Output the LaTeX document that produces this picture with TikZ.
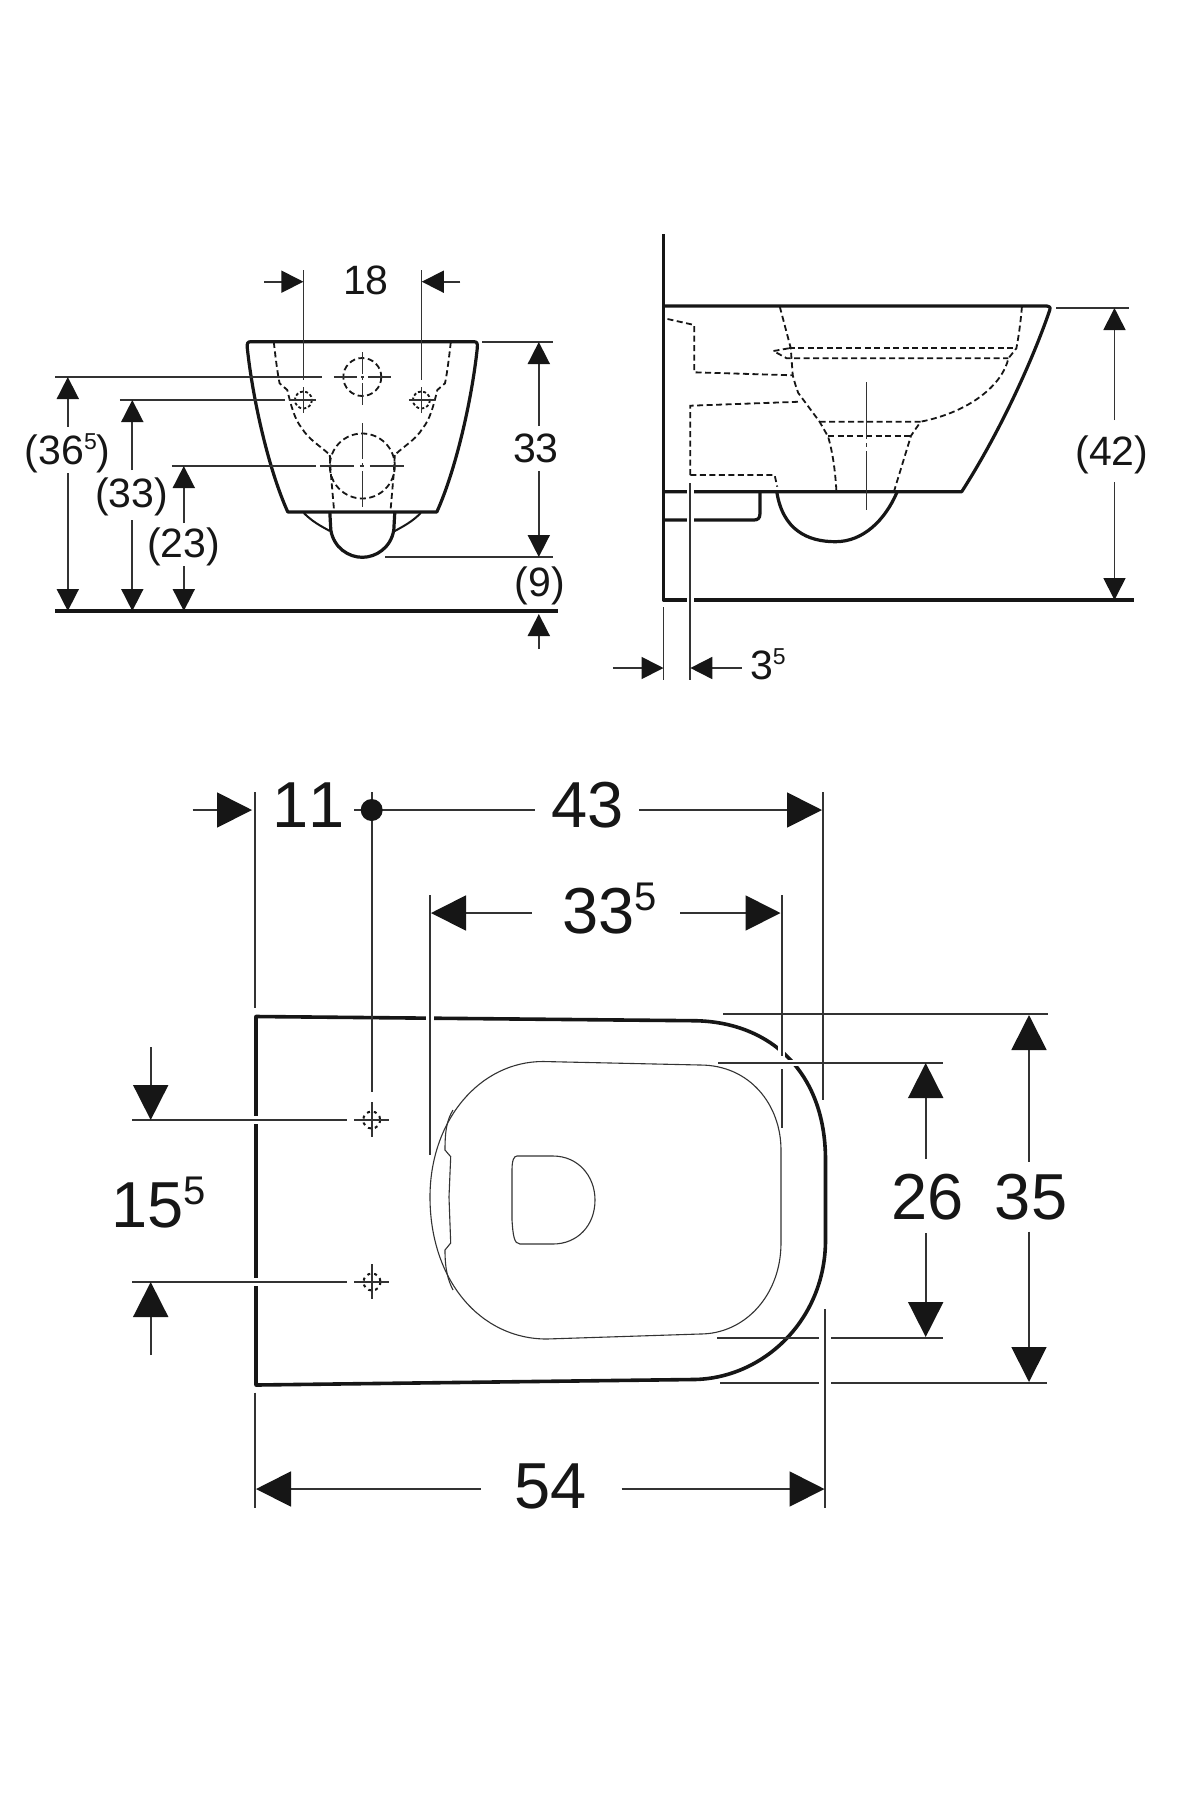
\documentclass[tikz,border=0pt]{standalone}
\usepackage{fontspec}
\setmainfont[Kerning=Off]{Liberation Sans}
\usetikzlibrary{arrows.meta}
\definecolor{ink}{HTML}{161616}
\definecolor{dimc}{HTML}{333333}
\newcommand\supS{\raisebox{15pt}{\fontsize{23}{24}\selectfont 5}}
\newcommand\supL{\raisebox{23pt}{\fontsize{40}{42}\selectfont 5}}
\tikzset{
  thick line/.style={draw=ink,line width=3.2pt,line join=round},
  thin line/.style={draw=dimc,line width=1.1pt},
  dashline/.style={draw=ink,line width=1.8pt,dash pattern=on 6pt off 3.5pt},
  ext/.style={draw=dimc,line width=1.7pt},
  extb/.style={draw=dimc,line width=1.8pt},
  cent/.style={draw=dimc,line width=1.5pt},
  gap/.style={draw=white,line width=8pt},
  ha/.style={draw=dimc,line width=1.7pt,-{Triangle[length=22pt,width=22pt,color=ink]}},
  hb/.style={draw=dimc,line width=1.8pt,-{Triangle[length=35pt,width=35pt,color=ink]}},
  ta/.style={text=ink,font=\fontsize{41}{44}\selectfont,inner sep=0pt},
  tb/.style={text=ink,font=\fontsize{65}{70}\selectfont,inner sep=0pt},
}
\begin{document}
\begin{tikzpicture}[x=1pt,y=-1pt]
\useasboundingbox (0,0) rectangle (1200,1800);
\fill[white] (0,0) rectangle (1200,1800);
% ===== FRONT VIEW =====
\begin{scope}[xshift=-1.2pt]
\draw[thick line] (252,341.7) -- (475,341.7) .. controls (478,341.7) and (479,343) .. (478.5,348)
  .. controls (473,400) and (457,470) .. (438,512) -- (289,512)
  .. controls (270,470) and (254,400) .. (248.5,348) .. controls (248,343) and (249,341.7) .. (252,341.7) -- cycle;
\draw[thick line] (331,512) -- (332,530) .. controls (335,548) and (350,557.3) .. (363.5,557.3)
  .. controls (377,557.3) and (392,548) .. (395,530) -- (396,512);
\draw[draw=ink,line width=2pt] (305,513) .. controls (314,522) and (322,526) .. (331,531);
\draw[draw=ink,line width=2pt] (422,513) .. controls (413,522) and (405,526) .. (396,531);
\draw[dashline] (275,342) .. controls (277,360) and (279,375) .. (280.8,383.3) -- (288.5,390)
  .. controls (292,405) and (296,420) .. (303,428) .. controls (310,440) and (322,446) .. (331,455);
\draw[dashline] (452,342) .. controls (450,360) and (448,375) .. (446.2,383.3) -- (438.5,390)
  .. controls (435,405) and (431,420) .. (424,428) .. controls (417,440) and (405,446) .. (396,455);
\draw[dashline] (331,455) -- (332,473) -- (335.4,512);
\draw[dashline] (396,455) -- (395,473) -- (391.6,512);
\draw[dashline] (363.5,466) circle[radius=32.5];
\draw[dashline] (363.5,377) circle[radius=19];
\draw[dashline,dash pattern=on 3pt off 2.2pt] (304.6,400) circle[radius=8.5];
\draw[dashline,dash pattern=on 3pt off 2.2pt] (422.6,400) circle[radius=8.5];
\draw[cent,dash pattern=on 23pt off 4pt on 3pt off 4pt on 23pt] (335,377) -- (392,377);
\draw[cent,dash pattern=on 22pt off 3pt on 3pt off 3pt on 22pt] (363.5,352) -- (363.5,405);
\draw[cent,dash pattern=on 34pt off 6pt on 4pt off 6pt on 34pt] (321,466) -- (405,466);
\draw[cent,dash pattern=on 36pt off 4pt on 4pt off 4pt on 36pt] (363.5,423) -- (363.5,507);
\draw[cent] (290,400) -- (317,400);
\draw[cent] (410,400) -- (436.5,400);
\draw[cent] (304.6,387) -- (304.6,413);
\draw[cent] (422.6,387) -- (422.6,413);
\draw[ext] (304.6,270) -- (304.6,380);
\draw[ext] (422.6,270) -- (422.6,380);
\coordinate (a18l) at (265.4,281.7); \coordinate (b18l) at (304.6,281.7);
\coordinate (a18r) at (461.5,281.7); \coordinate (b18r) at (423,281.7);
\draw[ha] (a18l) -- (b18l);
\draw[ha] (a18r) -- (b18r);
\node[ta] (t18) at (367,280) {18};
\draw[ext] (483.5,341.7) -- (554,341.7);
\draw[ext] (386.5,557.3) -- (554,557.3);
\draw[ha] (540,426) -- (540,342);
\draw[ha] (540,471) -- (540,557);
\node[ta] (t33r) at (537,448) {33};
\node[ta] (t9) at (541,586) {(9)};
\draw[thick line] (56.5,611) -- (559.6,611);
\draw[ha] (540,649) -- (540,614);
\draw[ext] (56.5,377) -- (323,377);
\draw[ha] (69,426.7) -- (69,377);
\draw[ha] (69,473) -- (69,611);
\node[ta] (t365) at (69,453) {(36\supS)};
\draw[ext] (121,400) -- (286.5,400);
\draw[ha] (133.5,470) -- (133.5,400);
\draw[ha] (133.5,520) -- (133.5,611);
\node[ta] (t33l) at (133,497) {(33)};
\draw[ext] (173,466) -- (317,466);
\draw[ha] (185,523) -- (185,466);
\draw[ha] (185,566) -- (185,611);
\node[ta] (t23) at (185,547) {(23)};
\end{scope}
% ===== SIDE VIEW =====
\begin{scope}[x=0.994pt,xshift=0.5pt]
\draw[thick line,line width=3.5pt] (667,234) -- (667,600) -- (1140,600);
\draw[thick line] (667,306) -- (1052.6,306) .. controls (1055,306) and (1056.5,307) .. (1055.6,310)
  .. controls (1042,350) and (1010,425) .. (967,491.7) -- (667,491.7);
\draw[thick line] (667,520) -- (758,520) .. controls (762,520) and (764,518) .. (764,514) -- (764,492);
\draw[thick line] (781,492) .. controls (787,530) and (812,541.7) .. (840,541.7) .. controls (868,541.7) and (890,520) .. (902,492);
\draw[dashline] (671,319) -- (698,325) -- (698,372.3) -- (797,375.3);
\draw[dashline] (784,306.7) -- (795,348) -- (797,375) .. controls (799,383) and (801,389) .. (802.6,393) -- (824,421.7) -- (832.6,436.7) .. controls (838,455) and (840,475) .. (841,491.7);
\draw[dashline] (694,475) -- (694,405.7) -- (804.5,401.7);
\draw[dashline] (694,475) -- (778.8,475) -- (781.4,486.7);
\draw[dashline] (793,348.3) -- (1022,348.3);
\draw[dashline] (793,348.3) -- (777.6,351) -- (791,358.3) -- (1014,358.3);
\draw[dashline] (1027.6,306.7) .. controls (1026,325) and (1024,338) .. (1022,348.3) -- (1014,358.3)
  .. controls (1008,385) and (975,412) .. (925.7,421.7);
\draw[dashline] (824,421.7) -- (925.7,421.7) -- (916,435.7) -- (898.8,491.7);
\draw[dashline] (832.6,435.7) -- (916,435.7);
\draw[cent,dash pattern=on 57pt off 4pt on 4pt off 4pt on 60pt] (871,382) -- (871,510);
\draw[gap,line width=7pt] (694,488) -- (694,495);
\draw[gap,line width=7pt] (694,516) -- (694,524);
\draw[gap,line width=7pt] (694,596) -- (694,604);
\draw[ext] (667,607) -- (667,680);
\draw[ext] (694,483) -- (694,680);
\draw[ha] (616,668) -- (667,668);
\draw[ha] (745.7,668) -- (694,668);
\node[ta,anchor=base west] (t35s) at (754,679) {3\supS};
\draw[ext] (1062,308) -- (1135,308);
\draw[ha] (1120.7,420) -- (1120.7,308);
\draw[ha] (1120.7,482) -- (1120.7,600);
\node[ta] (t42) at (1118,455) {(42)};
\end{scope}
% ===== PLAN VIEW =====
\draw[thick line,line width=3.6pt] (256,1016.5) -- (693,1020.7) .. controls (768,1021) and (825.5,1070) .. (825.5,1160)
  -- (825.5,1240) .. controls (825.5,1320) and (763,1379) .. (693,1379.5) -- (256,1385) -- cycle;
\draw[draw=dimc,line width=1.1pt] (543,1061.5) -- (700,1065) .. controls (750,1065) and (781,1105) .. (781,1150)
  -- (781,1243) .. controls (781,1295) and (745,1334) .. (700,1334) -- (546.7,1339)
  .. controls (480,1339) and (430,1280) .. (430,1197) .. controls (430,1120) and (480,1061.5) .. (543,1061.5) -- cycle;
\draw[thin line] (453,1110) .. controls (447,1120) and (445,1130) .. (445,1150) -- (450.7,1156.7) -- (449,1197) -- (450.7,1243) -- (445,1250) .. controls (445,1270) and (448,1280) .. (453,1290);
\draw[thin line] (517,1156) -- (553,1156) .. controls (578,1156) and (595,1176) .. (595,1200) .. controls (595,1226) and (577,1244) .. (553,1244)
  -- (520,1244) .. controls (514,1244) and (513,1235) .. (512,1220) -- (512,1170) .. controls (512,1160) and (514,1156) .. (517,1156) -- cycle;
\draw[gap] (430,1011) -- (430,1027);
\draw[gap] (250,1120) -- (262,1120);
\draw[gap] (250,1282) -- (262,1282);
\draw[gap,line width=7pt] (781.7,1040) -- (781.7,1058);
\draw[gap,line width=6pt] (786,1062.7) -- (802,1062.7);
\draw[extb] (255,792) -- (255,1008);
\draw[extb] (255,1392.7) -- (255,1508);
\draw[extb] (371.7,792) -- (371.7,1091.7);
\draw[extb] (823.3,792) -- (823.3,1100);
\draw[extb] (430,895) -- (430,1155);
\draw[extb] (781.7,895) -- (781.7,1056);
\draw[extb] (781.7,1069) -- (781.7,1128.3);
\draw[extb] (825,1309) -- (825,1508);
\draw[extb] (723,1014) -- (1048,1014);
\draw[extb] (718,1062.7) -- (943,1062.7);
\draw[extb] (717,1337.7) -- (819,1337.7);
\draw[extb] (831,1337.7) -- (943,1337.7);
\draw[extb] (720,1382.7) -- (819,1382.7);
\draw[extb] (831,1382.7) -- (1046.7,1382.7);
\draw[extb] (132,1120) -- (346.7,1120);
\draw[extb] (132,1282) -- (346.7,1282);
\draw[hb] (192.7,810) -- (252,810);
\node[tb] (t11) at (309,805) {11};
\draw[extb] (354,810) -- (535,810);
\fill[ink] (371.7,810) circle[radius=11];
\node[tb] (t43) at (588,805) {43};
\draw[hb] (639,810) -- (822,810);
\draw[hb] (531.7,913) -- (431,913);
\draw[hb] (680,913) -- (780.5,913);
\node[tb,anchor=base west] (t335) at (562,933) {33\supL};
\draw[hb] (925.7,1159) -- (925.7,1063);
\draw[hb] (925.7,1233) -- (925.7,1337);
\node[tb] (t26) at (928,1197) {26};
\draw[hb] (1029,1161.7) -- (1029,1015);
\draw[hb] (1029,1231.7) -- (1029,1382);
\node[tb] (t35) at (1031,1197) {35};
\draw[hb] (150.7,1047) -- (150.7,1120);
\draw[hb] (150.7,1355) -- (150.7,1282);
\node[tb,anchor=base west] (t155) at (111,1227) {15\supL};
\draw[hb] (480.7,1489) -- (256,1489);
\draw[hb] (621.7,1489) -- (824.5,1489);
\node[tb] (t54) at (550.5,1486) {54};
\draw[dashline,line width=2pt,dash pattern=on 3pt off 4pt] (371.7,1120) circle[radius=8.5];
\draw[dashline,line width=2pt,dash pattern=on 3pt off 4pt] (372,1282) circle[radius=8.5];
\draw[extb] (354,1120) -- (389,1120);
\draw[extb] (354,1282) -- (389,1282);
\draw[extb] (371.7,1102) -- (371.7,1137);
\draw[extb] (372,1264) -- (372,1299);
\end{tikzpicture}
\end{document}
